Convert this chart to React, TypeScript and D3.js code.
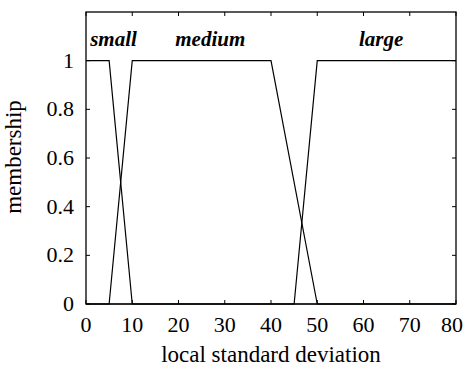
import React from "react";
import * as d3 from "d3";

// Membership functions over local standard deviation (breakpoints)
const smallX = [0, 5, 10, 80];
const smallY = [1, 1, 0, 0];
const mediumX = [0, 5, 10, 40, 50, 80];
const mediumY = [0, 0, 1, 1, 0, 0];
const largeX = [0, 45, 50, 80];
const largeY = [0, 0, 1, 1];

const setNames = ["small", "medium", "large"];
const setLabelX = [0.9, 19.3, 59];

const xTicks = [0, 10, 20, 30, 40, 50, 60, 70, 80];
const yTicks = [0, 0.2, 0.4, 0.6, 0.8, 1];

const W = 465;
const H = 370;
const M = { left: 86, right: 9, top: 12, bottom: 66 };

export default function App() {
  const x = d3.scaleLinear().domain([0, 80]).range([M.left, W - M.right]);
  const y = d3.scaleLinear().domain([0, 1.2]).range([H - M.bottom, M.top]);
  const line = d3
    .line<[number, number]>()
    .x((d) => x(d[0]))
    .y((d) => y(d[1]));

  const series = [
    smallX.map((v, i) => [v, smallY[i]] as [number, number]),
    mediumX.map((v, i) => [v, mediumY[i]] as [number, number]),
    largeX.map((v, i) => [v, largeY[i]] as [number, number]),
  ];

  const x0 = x(0);
  const x1 = x(80);
  const y0 = y(0);
  const y1 = y(1.2);
  const tl = 4;
  const font = "'Liberation Serif', 'Times New Roman', serif";

  return (
    <svg
      width={W}
      height={H}
      style={{ position: "absolute", left: 0, top: 0, background: "#fff" }}
      fontFamily={font}
    >
      <rect x={0} y={0} width={W} height={H} fill="#fff" />
      {series.map((s, i) => (
        <path key={i} d={line(s) || ""} fill="none" stroke="#000" strokeWidth={1.2} />
      ))}
      <rect x={x0} y={y1} width={x1 - x0} height={y0 - y1} fill="none" stroke="#000" strokeWidth={1.3} />
      {xTicks.map((t, i) => {
        const last = i === xTicks.length - 1;
        return (
          <g key={"x" + t}>
            <line x1={x(t)} x2={x(t)} y1={y0} y2={y0 - tl} stroke="#000" />
            <line x1={x(t)} x2={x(t)} y1={y1} y2={y1 + tl} stroke="#000" />
            <text
              x={last ? W - 2 : x(t)}
              y={y0 + 28}
              textAnchor={last ? "end" : "middle"}
              fontSize={22}
            >
              {t}
            </text>
          </g>
        );
      })}
      {yTicks.map((t) => (
        <g key={"y" + t}>
          <line x1={x0} x2={x0 + tl} y1={y(t)} y2={y(t)} stroke="#000" />
          <line x1={x1} x2={x1 - tl} y1={y(t)} y2={y(t)} stroke="#000" />
          <text x={x0 - 12} y={y(t) + 7} textAnchor="end" fontSize={22}>
            {t}
          </text>
        </g>
      ))}
      {setNames.map((n, i) => (
        <text
          key={n}
          x={x(setLabelX[i])}
          y={46}
          fontSize={21}
          fontStyle="italic"
          fontWeight="bold"
        >
          {n}
        </text>
      ))}
      <text x={(x0 + x1) / 2} y={362} textAnchor="middle" fontSize={23}>
        local standard deviation
      </text>
      <text
        transform={`translate(21, 157) rotate(-90)`}
        textAnchor="middle"
        fontSize={23}
      >
        membership
      </text>
    </svg>
  );
}
